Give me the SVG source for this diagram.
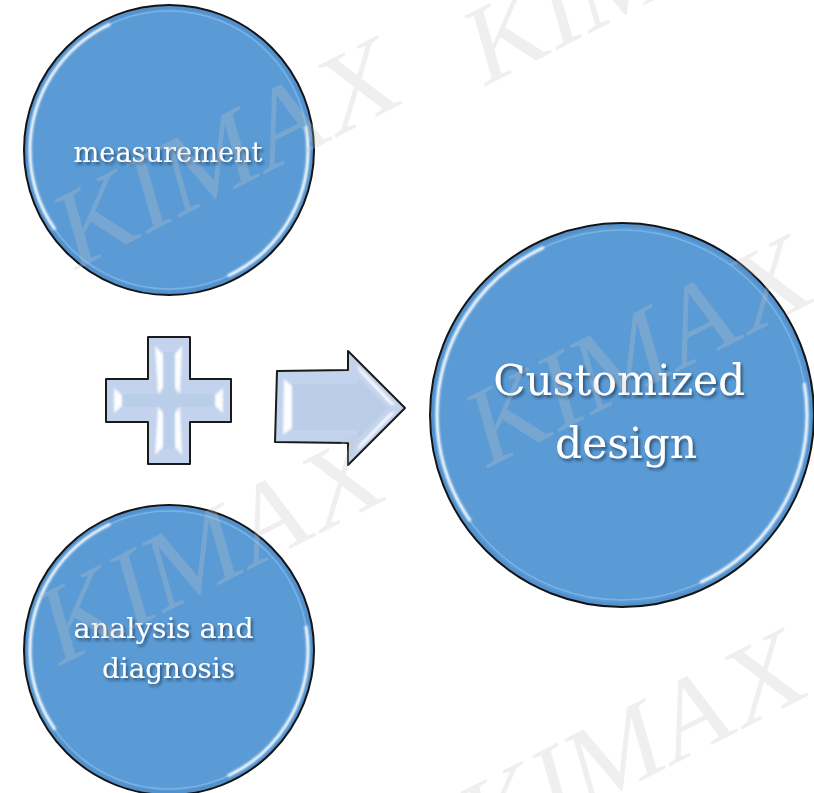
<svg xmlns="http://www.w3.org/2000/svg" width="814" height="793" viewBox="0 0 814 793">
  <style>
    .disc { fill: #5b9bd5; }
    .band { fill: none; stroke: #4a88c6; stroke-width: 3; opacity: 0.55; }
    .rim { fill: none; stroke: #8fc1ee; stroke-width: 1.5; opacity: 0.6; }
    .glint { fill: none; stroke: #f4faff; stroke-width: 3; stroke-dasharray: 75 80 100 105; stroke-dashoffset: 10; }
    .edge { fill: none; stroke: #141414; stroke-width: 2; }
    .label { fill: #ffffff; font-family: "DejaVu Serif", "Liberation Serif", serif; text-anchor: middle; }
    .small { font-size: 28px; }
    .big { font-size: 43px; }
    .shape { fill: #c3d3ed; stroke: #1a1a1a; stroke-width: 2; stroke-linejoin: round; }
    .face { fill: #bacde9; }
    .facet { fill: #ffffff; opacity: 0.95; }
    .mark { font-family: "Liberation Serif", "Times New Roman", serif; font-size: 110px; fill: #c4c4c4; fill-opacity: 0.27; }
  </style>
  <defs>
    <filter id="shadow" x="-10%" y="-30%" width="130%" height="170%">
      <feDropShadow dx="2" dy="2.5" stdDeviation="1.4" flood-color="#1d3a5a" flood-opacity="0.75"/>
    </filter>
    <filter id="soft" x="-10%" y="-10%" width="120%" height="120%">
      <feGaussianBlur stdDeviation="0.8"/>
    </filter>
    <filter id="softer" x="-20%" y="-20%" width="140%" height="140%">
      <feGaussianBlur stdDeviation="1"/>
    </filter>
  </defs>

  <rect width="814" height="793" fill="#ffffff"/>

  <!-- top input: measurement -->
  <g id="measurement">
    <circle class="disc" cx="169" cy="150" r="145"/>
    <circle class="band" cx="169" cy="150" r="142.5"/>
    <circle class="rim" cx="169" cy="150" r="139"/>
    <circle class="glint" cx="169" cy="150" r="139" pathLength="360" filter="url(#soft)"/>
    <circle class="edge" cx="169" cy="150" r="145"/>
    <text class="label small" x="168" y="162" textLength="189" lengthAdjust="spacingAndGlyphs" filter="url(#shadow)">measurement</text>
  </g>

  <!-- bottom input: analysis and diagnosis -->
  <g id="analysis">
    <circle class="disc" cx="169" cy="650" r="145"/>
    <circle class="band" cx="169" cy="650" r="142.5"/>
    <circle class="rim" cx="169" cy="650" r="139"/>
    <circle class="glint" cx="169" cy="650" r="139" pathLength="360" filter="url(#soft)"/>
    <circle class="edge" cx="169" cy="650" r="145"/>
    <text class="label small" filter="url(#shadow)">
      <tspan x="168" y="638" textLength="180" lengthAdjust="spacingAndGlyphs">analysis and</tspan>
      <tspan x="168.5" y="678" textLength="133" lengthAdjust="spacingAndGlyphs">diagnosis</tspan>
    </text>
  </g>

  <!-- result: customized design -->
  <g id="customized">
    <circle class="disc" cx="622" cy="415" r="192"/>
    <circle class="band" cx="622" cy="415" r="189.5"/>
    <circle class="rim" cx="622" cy="415" r="185"/>
    <circle class="glint" cx="622" cy="415" r="185" pathLength="360" filter="url(#soft)"/>
    <circle class="edge" cx="622" cy="415" r="192"/>
    <text class="label big" filter="url(#shadow)">
      <tspan x="626" y="395" textLength="252" lengthAdjust="spacingAndGlyphs">Customized</tspan>
      <tspan x="626" y="458" textLength="142" lengthAdjust="spacingAndGlyphs">design</tspan>
    </text>
  </g>

  <!-- bevelled plus sign -->
  <g id="plus">
    <polygon class="shape" points="148,337 190,337 190,379 231,379 231,422 190,422 190,464 148,464 148,422 106,422 106,379 148,379"/>
    <polygon class="face" points="163,352 175,352 175,394 216,394 216,407 175,407 175,449 163,449 163,407 122,407 122,394 163,394"/>
    <g filter="url(#softer)">
      <polygon class="facet" points="155,346 163,354 163,388 158,394"/>
      <polygon class="facet" points="182,346 175,354 175,388 180,394"/>
      <polygon class="facet" points="158,407 163,413 163,447 155,455"/>
      <polygon class="facet" points="180,407 175,413 175,447 182,455"/>
      <polygon class="facet" points="114,388 122,395 122,406 114,413"/>
      <polygon class="facet" points="223,388 215,395 215,406 223,413"/>
    </g>
  </g>

  <!-- connectors -->
  <g id="connectors">
    <g id="arrow">
      <polygon class="shape" points="277,371 348,370 348,351 405,408 348,465 348,443 275,442"/>
      <polygon class="face" points="292,384 358,384 358,378 388,408 358,438 358,430 292,430"/>
      <g filter="url(#softer)">
        <polygon class="facet" points="284,379 292,386 292,428 283,435"/>
        <polygon class="facet" points="356,364 360,372 390,404 396,406" opacity="0.75"/>
        <polygon class="facet" points="396,411 390,413 360,444 356,452" opacity="0.75"/>
      </g>
    </g>
  </g>

  <!-- faint repeated stamp over the page -->
  <g id="stamp">
    <text class="mark" transform="translate(72,272) rotate(-27) skewX(-11)">KIMAX</text>
    <text class="mark" transform="translate(482,88) rotate(-27) skewX(-11)">KIMAX</text>
    <text class="mark" transform="translate(484,470) rotate(-27) skewX(-11)">KIMAX</text>
    <text class="mark" transform="translate(56,668) rotate(-27) skewX(-11)">KIMAX</text>
    <text class="mark" transform="translate(478,864) rotate(-27) skewX(-11)">KIMAX</text>
  </g>
</svg>
